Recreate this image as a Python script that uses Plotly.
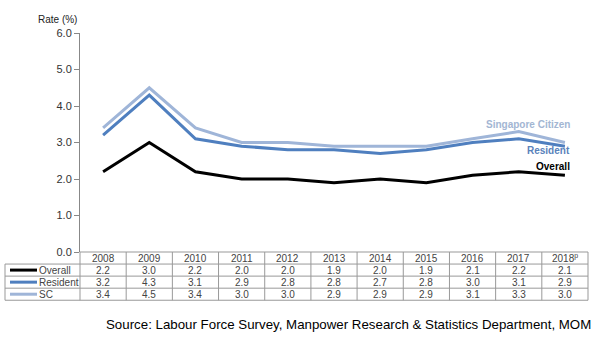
import plotly.graph_objects as go

years = ["2008", "2009", "2010", "2011", "2012", "2013", "2014", "2015", "2016", "2017", "2018"]
year_labels = ["2008", "2009", "2010", "2011", "2012", "2013", "2014", "2015", "2016", "2017", "2018<sup>p</sup>"]
overall = [2.2, 3.0, 2.2, 2.0, 2.0, 1.9, 2.0, 1.9, 2.1, 2.2, 2.1]
resident = [3.2, 4.3, 3.1, 2.9, 2.8, 2.8, 2.7, 2.8, 3.0, 3.1, 2.9]
sc = [3.4, 4.5, 3.4, 3.0, 3.0, 2.9, 2.9, 2.9, 3.1, 3.3, 3.0]
row_names = ["Overall", "Resident", "SC"]
series = [overall, resident, sc]
colors = ["#000000", "#4f7fbf", "#9fb5d8"]

W, H = 596, 340
def py(p):  # pixel y -> paper
    return 1 - p / H
def px(p):
    return p / W

x0p, x1p = 80, 588
fig = go.Figure()
for name, vals, col in [("SC", sc, colors[2]), ("Resident", resident, colors[1]), ("Overall", overall, colors[0])]:
    fig.add_trace(go.Scatter(x=list(range(len(years))), y=vals, mode="lines", line=dict(color=col, width=3),
                             name=name, showlegend=False, hoverinfo="skip"))

font = "Liberation Sans, Arial, sans-serif"
fig.update_layout(
    width=W, height=H, margin=dict(l=0, r=0, t=0, b=0),
    paper_bgcolor="white", plot_bgcolor="white",
    xaxis=dict(domain=[px(x0p), px(x1p)], range=[-0.5, 10.5], showticklabels=False, showgrid=False,
               zeroline=False, showline=False, ticks=""),
    yaxis=dict(domain=[py(255), py(28)], range=[0, 6], dtick=1, tickformat=".1f", showgrid=False,
               zeroline=False, showline=True, linecolor="#888", linewidth=1, ticks="outside", ticklen=5,
               tickcolor="#888", tickfont=dict(family=font, size=11, color="#333")),
)

colw = (x1p - x0p) / len(years)
def cx(i):
    return px(x0p + (i + 0.5) * colw)

ann = []
shapes = []
ann.append(dict(x=px(79), y=py(14), xref="paper", yref="paper", text="Rate (%)", showarrow=False,
                xanchor="right", yanchor="middle", font=dict(family=font, size=10, color="#222")))

rows_y = [255, 267.5, 280, 292.5, 305]
grid_col = "#999"
shapes.append(dict(type="line", xref="paper", yref="paper", x0=px(x0p), x1=px(x1p), y0=py(rows_y[0]), y1=py(rows_y[0]),
                   line=dict(color=grid_col, width=1)))
for yy in rows_y[1:]:
    shapes.append(dict(type="line", xref="paper", yref="paper", x0=px(5), x1=px(x1p), y0=py(yy), y1=py(yy),
                       line=dict(color=grid_col, width=1)))
shapes.append(dict(type="line", xref="paper", yref="paper", x0=px(5), x1=px(5), y0=py(rows_y[1]), y1=py(rows_y[4]),
                   line=dict(color=grid_col, width=1)))
for i in range(len(years) + 1):
    xx = px(x0p + i * colw)
    shapes.append(dict(type="line", xref="paper", yref="paper", x0=xx, x1=xx, y0=py(rows_y[0]), y1=py(rows_y[4]),
                       line=dict(color=grid_col, width=1)))
for i, yl in enumerate(year_labels):
    ann.append(dict(x=cx(i), y=py((rows_y[0] + rows_y[1]) / 2), xref="paper", yref="paper", text=yl, showarrow=False,
                    font=dict(family=font, size=10, color="#444"), xanchor="center", yanchor="middle"))
for r, (nm, vals, col) in enumerate(zip(row_names, series, colors)):
    yc = py((rows_y[r + 1] + rows_y[r + 2]) / 2)
    shapes.append(dict(type="line", xref="paper", yref="paper", x0=px(10), x1=px(37), y0=yc, y1=yc,
                       line=dict(color=col, width=3)))
    ann.append(dict(x=px(37), y=yc, xref="paper", yref="paper", text=nm, showarrow=False, xanchor="left",
                    yanchor="middle", font=dict(family=font, size=10, color="#444")))
    for i, v in enumerate(vals):
        ann.append(dict(x=cx(i), y=yc, xref="paper", yref="paper", text=f"{v:.1f}", showarrow=False,
                        font=dict(family=font, size=10, color="#444"), xanchor="center", yanchor="middle"))

ann.append(dict(x=px(572), y=py(123), xref="paper", yref="paper", text="<b>Singapore Citizen</b>", showarrow=False,
                xanchor="right", yanchor="middle", font=dict(family=font, size=10, color="#a3b6d3")))
ann.append(dict(x=px(572), y=py(150), xref="paper", yref="paper", text="<b>Resident</b>", showarrow=False,
                xanchor="right", yanchor="middle", font=dict(family=font, size=10, color="#5a82bb")))
ann.append(dict(x=px(572), y=py(166), xref="paper", yref="paper", text="<b>Overall</b>", showarrow=False,
                xanchor="right", yanchor="middle", font=dict(family=font, size=10, color="#000")))

ann.append(dict(x=px(593), y=py(330), xref="paper", yref="paper",
                text="Source: Labour Force Survey, Manpower Research & Statistics Department, MOM",
                showarrow=False, xanchor="right", yanchor="middle", font=dict(family=font, size=13.3, color="#000")))

fig.update_layout(annotations=ann, shapes=shapes)
fig.write_html("out.html")
